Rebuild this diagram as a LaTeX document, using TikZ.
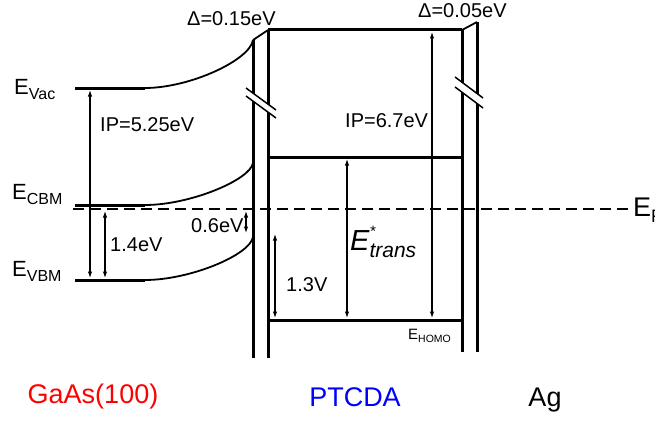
\documentclass[tikz,border=0pt]{standalone}
\usepackage{fontspec}
\setmainfont{Liberation Sans}
\usetikzlibrary{arrows.meta}

\newcommand{\esub}[2][14]{E\raisebox{-0.25em}{\fontsize{#1}{#1}\selectfont #2}}

\begin{document}
\begin{tikzpicture}[
    x=1pt, y=-1pt,
    every node/.style={inner sep=0pt, font=\fontsize{20}{24}\selectfont},
    lvl/.style={line width=3pt},
    bandbend/.style={line width=1.8pt},
    arr/.style={{Latex[length=6.5pt,width=4.5pt]}-{Latex[length=6.5pt,width=4.5pt]}, line width=1.1pt},
    brk/.style={line width=1.5pt},
    lbl/.style={anchor=base west},
    elbl/.style={anchor=base west, font=\fontsize{22}{26}\selectfont},
    matl/.style={font=\fontsize{27}{32}\selectfont, anchor=base}
  ]
  \useasboundingbox (0,0) rectangle (655,420);

  % GaAs levels
  \coordinate (vac0) at (75,88);
  \coordinate (vac1) at (145,88);
  \coordinate (vac2) at (253,40);
  \coordinate (cbm0) at (75,205);
  \coordinate (cbm1) at (145,205);
  \coordinate (cbm2) at (253,163);
  \coordinate (vbm0) at (75,280);
  \coordinate (vbm1) at (145,280);
  \coordinate (vbm2) at (253,237);
  \draw[lvl] (vac0) -- (vac1);
  \draw[lvl] (cbm0) -- (cbm1);
  \draw[lvl] (vbm0) -- (vbm1);
  \draw[bandbend] (vac1) .. controls +(45,0) and +(-3,20) .. (vac2);
  \draw[bandbend] (cbm1) .. controls +(45,0) and +(-3,17) .. (cbm2);
  \draw[bandbend] (vbm1) .. controls +(45,0) and +(-3,18) .. (vbm2);

  % interfaces
  \coordinate (gaTop) at (268,30);
  \coordinate (gaBot) at (253,358);
  \coordinate (ptBot) at (268,358);
  \coordinate (ptTopR) at (462,30);
  \coordinate (ptBotR) at (462,352);
  \coordinate (agTop) at (477,22);
  \coordinate (agBot) at (477,352);
  \draw[lvl] (vac2) -- (gaBot);
  \draw[lvl] (gaTop) -- (ptBot);
  \draw[lvl] (ptTopR) -- (ptBotR);
  \draw[lvl] (agTop) -- (agBot);
  \draw[bandbend] (vac2) -- (gaTop);
  \draw[bandbend] (ptTopR) -- (agTop);

  % PTCDA levels
  \coordinate (lumoL) at (268,157);
  \coordinate (lumoR) at (462,157);
  \coordinate (homoL) at (268,320);
  \coordinate (homoR) at (462,320);
  \draw[lvl] (gaTop) -- (ptTopR);
  \draw[lvl] (lumoL) -- (lumoR);
  \draw[lvl] (homoL) -- (homoR);

  % breaks
  \fill[white] (246,88) -- (276,110) -- (276,118) -- (246,96) -- cycle;
  \draw[brk] (246,88) -- (276,110);
  \draw[brk] (246,96) -- (276,118);
  \fill[white] (455,77) -- (483,98) -- (483,108) -- (455,87) -- cycle;
  \draw[brk] (455,77) -- (483,98);
  \draw[brk] (455,87) -- (483,108);

  % Fermi level
  \coordinate (efL) at (73,209);
  \coordinate (efR) at (628,209);
  \draw[line width=2.4pt, dash pattern=on 11pt off 6pt] (efL) -- (efR);
  \node[lbl, font=\fontsize{27}{32}\selectfont] (ef) at (633,216) {\esub[18]{F}};

  % arrows
  \coordinate (ipgB) at (90,278);
  \coordinate (ipgT) at (90,90);
  \coordinate (gapT) at (105,211);
  \coordinate (gapB) at (105,278);
  \coordinate (bbT) at (246,211);
  \coordinate (bbB) at (246,233);
  \coordinate (hT) at (275,234);
  \coordinate (hB) at (275,318);
  \coordinate (trT) at (347,159);
  \coordinate (trB) at (347,318);
  \coordinate (ippT) at (432,32);
  \coordinate (ippB) at (432,318);
  \draw[arr] (ipgB) -- (ipgT);
  \draw[arr] (gapT) -- (gapB);
  \draw[arr] (bbT) -- (bbB);
  \draw[arr] (hT) -- (hB);
  \draw[arr] (trT) -- (trB);
  \draw[arr] (ippT) -- (ippB);

  % labels
  \node[elbl] (evac) at (14,94) {\esub[16]{Vac}};
  \node[elbl] (ecbm) at (12,199) {\esub[16]{CBM}};
  \node[elbl] (evbm) at (12,276) {\esub[16]{VBM}};
  \node[lbl] (ipg) at (100,131) {IP=5.25eV};
  \node[lbl] (gap) at (110,251) {1.4eV};
  \node[lbl] (bb) at (191,232) {0.6eV};
  \node[lbl] (dl) at (187,26) {Δ=0.15eV};
  \node[lbl] (dr) at (418,18) {Δ=0.05eV};
  \node[lbl] (ipp) at (345,127) {IP=6.7eV};
  \node[lbl] (hop) at (286,291) {1.3V};
  \node[lbl, font=\fontsize{29}{32}\selectfont\itshape] (etr) at (350,250)
    {E\rlap{\raisebox{14pt}{\fontsize{15}{15}\selectfont *}}\raisebox{-7pt}{\fontsize{21}{21}\selectfont trans}};
  \node[lbl, font=\fontsize{15}{18}\selectfont] (ehomo) at (408,339) {\esub[10.5]{HOMO}};

  % materials
  \node[matl, text={rgb,255:red,255;green,0;blue,0}] (gaas) at (93,403) {GaAs(100)};
  \node[matl, text={rgb,255:red,0;green,0;blue,255}] (ptcda) at (355,406) {PTCDA};
  \node[matl] (ag) at (545,406) {Ag};
\end{tikzpicture}
\end{document}
